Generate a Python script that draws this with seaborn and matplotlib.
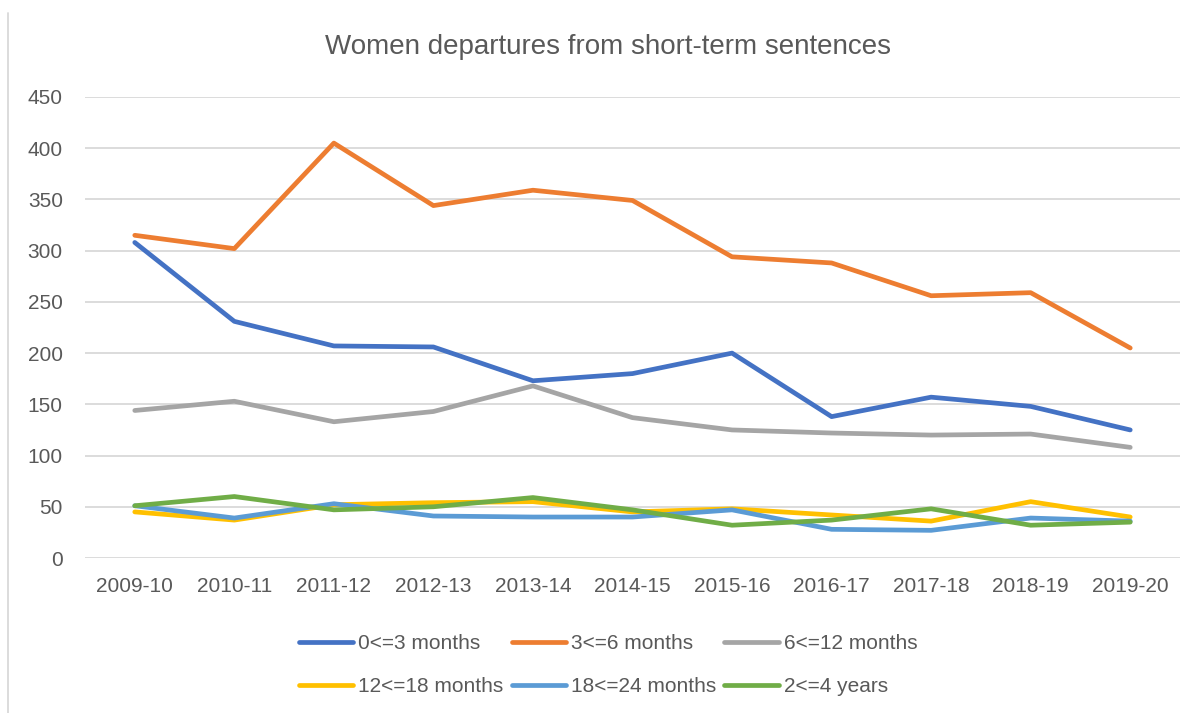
import matplotlib
matplotlib.use("Agg")
import matplotlib.pyplot as plt
import seaborn as sns
import pandas as pd
from matplotlib.lines import Line2D

years = ["2009-10", "2010-11", "2011-12", "2012-13", "2013-14", "2014-15",
         "2015-16", "2016-17", "2017-18", "2018-19", "2019-20"]
s_0_3 = [308, 231, 207, 206, 173, 180, 200, 138, 157, 148, 125]
s_3_6 = [315, 302, 405, 344, 359, 349, 294, 288, 256, 259, 205]
s_6_12 = [144, 153, 133, 143, 168, 137, 125, 122, 120, 121, 108]
s_12_18 = [45, 37, 52, 54, 55, 45, 48, 42, 36, 55, 40]
s_18_24 = [51, 39, 53, 41, 40, 40, 47, 28, 27, 39, 36]
s_2_4y = [51, 60, 47, 50, 59, 47, 32, 37, 48, 32, 35]

series_names = ["0<=3 months", "3<=6 months", "6<=12 months",
                "12<=18 months", "18<=24 months", "2<=4 years"]
series_vals = [s_0_3, s_3_6, s_6_12, s_12_18, s_18_24, s_2_4y]
colors = ["#4472C4", "#ED7D31", "#A5A5A5", "#FFC000", "#5B9BD5", "#70AD47"]

rows = []
for name, vals in zip(series_names, series_vals):
    for i, (y, v) in enumerate(zip(years, vals)):
        rows.append({"idx": i, "Year": y, "Series": name, "Value": v})
df = pd.DataFrame(rows)

sns.set_theme(style="white")
plt.rcParams["font.family"] = ["Liberation Sans", "DejaVu Sans"]

fig = plt.figure(figsize=(11.97, 7.13), dpi=100)
W, H = 1197, 713
ax = fig.add_axes([85 / W, 1 - 558 / H, (1180 - 85) / W, (558 - 97) / H])

LW = 3.4
sns.lineplot(data=df, x="idx", y="Value", hue="Series", hue_order=series_names,
             palette=colors, linewidth=LW, ax=ax, legend=False, sort=False,
             solid_capstyle="round", solid_joinstyle="round")

ax.set_xlim(-0.5, len(years) - 0.5)
ax.set_ylim(0, 450)
ax.set_yticks(range(0, 451, 50))
ax.set_xticks(range(len(years)))
ax.set_xticklabels(years)
ax.yaxis.grid(True, color="#D9D9D9", linewidth=1.3)
ax.set_axisbelow(True)
for sp in ax.spines.values():
    sp.set_visible(False)
ax.tick_params(axis="both", length=0, labelsize=15, colors="#595959")
ax.tick_params(axis="x", pad=14)
ax.tick_params(axis="y", pad=16)
ax.set_xlabel("")
ax.set_ylabel("")

fig.text(608 / W, 1 - 47 / H, "Women departures from short-term sentences",
         ha="center", va="center", fontsize=20, color="#595959")

handles = [Line2D([0], [0], color=c, linewidth=LW, solid_capstyle="round")
           for c in colors]
order = [0, 3, 1, 4, 2, 5]
fig.legend([handles[i] for i in order], [series_names[i] for i in order],
           loc="center", ncol=3,
           bbox_to_anchor=(608 / W, 1 - 665 / H), frameon=False,
           fontsize=15, labelcolor="#595959", handlelength=2.6,
           handletextpad=0.25, columnspacing=0.4, labelspacing=1.15)

fig.add_artist(Line2D([8 / W, 8 / W], [0, 1 - 13 / H], transform=fig.transFigure,
                      color="#D9D9D9", linewidth=1.3))

fig.savefig("out.png", dpi=100)
